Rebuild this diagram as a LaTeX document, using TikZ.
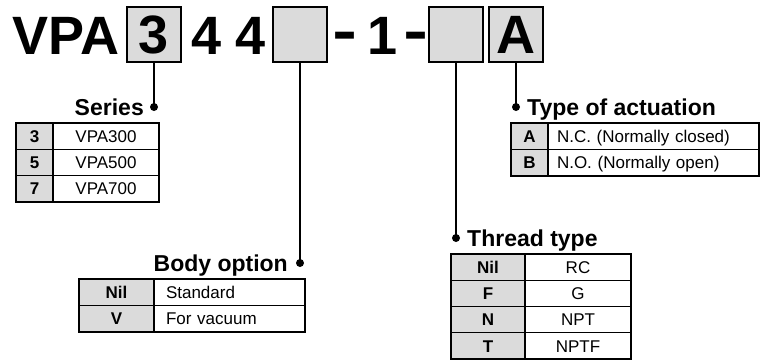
\documentclass[tikz,border=0pt]{standalone}
\usepackage{fontspec}
\setmainfont{Liberation Sans}
\usetikzlibrary{positioning}
\definecolor{codeGray}{gray}{0.86}
\newcommand{\bigCode}{\fontsize{54}{54}\selectfont\bfseries}
\newcommand{\cellFont}{\fontsize{17}{17}\selectfont}
\newcommand{\codeDash}{\scalebox{0.7}[1.3]{–}}
\tikzset{
  codeBox/.style={draw,line width=2pt,fill=codeGray,minimum width=54pt,minimum height=55pt,inner sep=0pt,font=\bigCode},
  codeText/.style={inner sep=0pt,font=\bigCode},
  pinDot/.style={circle,fill=black,minimum size=8pt,inner sep=0pt},
  pinLine/.style={line width=1.6pt},
  headText/.style={inner sep=0pt,font=\fontsize{23}{23}\selectfont\bfseries},
  cell/.style={draw,line width=1.1pt,outer sep=0pt,inner ysep=0pt,minimum height=26.3pt,text height=12pt,text depth=0pt,font=\cellFont},
  keyCell/.style={cell,fill=codeGray,font=\cellFont\bfseries},
  valCell/.style={cell},
  valLeft/.style={cell,inner xsep=#1,align=left},
  tableFrame/.style={line width=1.8pt}
}

\begin{document}
\begin{tikzpicture}[x=1pt,y=-1pt]
  \useasboundingbox (0,0) rectangle (761,360);
  \node[codeText,anchor=base east] (vpa) at (120,54) {VPA};
  \node[codeBox] (cSeries) at (154,34.5) {3};
  \node[codeText,anchor=base west] (c44) at (191,54) {4\kern14pt4};
  \node[codeBox] (cBody) at (300,34.5) {};
  \node[codeText,anchor=base west] (c1) at (334,54) {\codeDash\kern12pt1\kern8pt\codeDash};
  \node[codeBox] (cThread) at (456,34.5) {};
  \node[codeBox] (cAct) at (516,34.5) {A};

  \node[pinDot] (dSeries) at (154,107) {};
  \node[pinDot] (dBody) at (300,263) {};
  \node[pinDot] (dThread) at (456,238) {};
  \node[pinDot] (dAct) at (516,107) {};
  \draw[pinLine] (cSeries) -- (dSeries.center);
  \draw[pinLine] (cBody) -- (dBody.center);
  \draw[pinLine] (cThread) -- (dThread.center);
  \draw[pinLine] (cAct) -- (dAct.center);

  \node[headText,anchor=base east] (hSeries) at ([xshift=-10pt,yshift=-8pt]dSeries.center) {Series};
  \node[headText,anchor=base east] (hBody) at ([xshift=-12pt,yshift=-8pt]dBody.center) {Body option};
  \node[headText,anchor=base west] (hThread) at ([xshift=11pt,yshift=-8pt]dThread.center) {Thread type};
  \node[headText,anchor=base west] (hAct) at ([xshift=11pt,yshift=-8pt]dAct.center) {Type of actuation};

  \node[keyCell,minimum width=37pt,anchor=north west] (s3) at (16,123) {3};
  \node[valCell,minimum width=106pt,right=0pt of s3] (s3v) {VPA300};
  \node[keyCell,minimum width=37pt,below=0pt of s3] (s5) {5};
  \node[valCell,minimum width=106pt,right=0pt of s5] (s5v) {VPA500};
  \node[keyCell,minimum width=37pt,below=0pt of s5] (s7) {7};
  \node[valCell,minimum width=106pt,right=0pt of s7] (s7v) {VPA700};
  \draw[tableFrame] (s3.north west) rectangle (s7v.south east);

  \node[keyCell,minimum width=75pt,anchor=north west] (bNil) at (79,279) {Nil};
  \node[valLeft=12pt,text width=127pt,right=0pt of bNil] (bNilv) {Standard};
  \node[keyCell,minimum width=75pt,below=0pt of bNil] (bV) {V};
  \node[valLeft=12pt,text width=127pt,right=0pt of bV] (bVv) {For vacuum};
  \draw[tableFrame] (bNil.north west) rectangle (bVv.south east);

  \node[keyCell,minimum width=37pt,anchor=north west] (aA) at (511,123) {A};
  \node[valLeft=9pt,text width=193pt,right=0pt of aA] (aAv) {N.C. (Normally closed)};
  \node[keyCell,minimum width=37pt,below=0pt of aA] (aB) {B};
  \node[valLeft=9pt,text width=193pt,right=0pt of aB] (aBv) {N.O. (Normally open)};
  \draw[tableFrame] (aA.north west) rectangle (aBv.south east);

  \node[keyCell,minimum width=74pt,anchor=north west] (tNil) at (451,254) {Nil};
  \node[valCell,minimum width=106pt,right=0pt of tNil] (tNilv) {RC};
  \node[keyCell,minimum width=74pt,below=0pt of tNil] (tF) {F};
  \node[valCell,minimum width=106pt,right=0pt of tF] (tFv) {G};
  \node[keyCell,minimum width=74pt,below=0pt of tF] (tN) {N};
  \node[valCell,minimum width=106pt,right=0pt of tN] (tNv) {NPT};
  \node[keyCell,minimum width=74pt,below=0pt of tN] (tT) {T};
  \node[valCell,minimum width=106pt,right=0pt of tT] (tTv) {NPTF};
  \draw[tableFrame] (tNil.north west) rectangle (tTv.south east);
\end{tikzpicture}
\end{document}
